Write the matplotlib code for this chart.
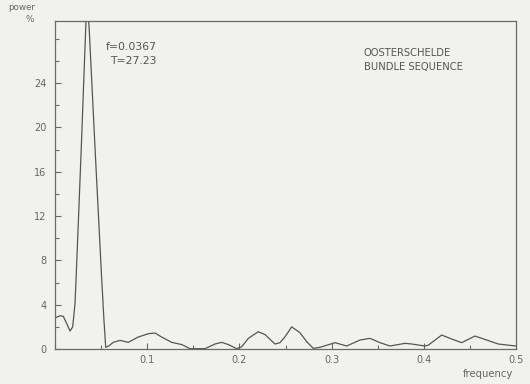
import matplotlib
matplotlib.use("Agg")
import matplotlib.pyplot as plt
from matplotlib.ticker import MultipleLocator, FixedLocator

# Power spectrum of the bundle sequence
freq = [0.000, 0.0054, 0.0090, 0.0127, 0.0163, 0.0192, 0.0217, 0.0228,
        0.0282, 0.0336, 0.0352, 0.0369, 0.0435, 0.0504, 0.0531, 0.0550,
        0.0578, 0.0632, 0.0705, 0.0795, 0.0903, 0.1012, 0.1085, 0.1157,
        0.1266, 0.1374, 0.1464, 0.1627, 0.1735, 0.1808, 0.1880, 0.1970,
        0.2025, 0.2097, 0.2205, 0.2278, 0.2386, 0.2440, 0.2495, 0.2567,
        0.2657, 0.2730, 0.2801, 0.2874, 0.3037, 0.3164, 0.3308, 0.3416,
        0.3525, 0.3633, 0.3796, 0.3869, 0.4013, 0.4049, 0.4194, 0.4284,
        0.4411, 0.4555, 0.4682, 0.4808, 0.5000]
power = [2.8, 3.0, 2.95, 2.3, 1.62, 2.0, 4.1, 6.2,
         17.5, 29.6, 30.4, 29.2, 18.0, 6.7, 2.6, 0.15,
         0.25, 0.6, 0.78, 0.6, 1.08, 1.38, 1.44, 1.08,
         0.6, 0.4, 0.03, 0.03, 0.45, 0.6, 0.4, 0.03,
         0.2, 0.96, 1.56, 1.3, 0.45, 0.57, 1.1, 2.0,
         1.47, 0.66, 0.06, 0.15, 0.57, 0.27, 0.81, 0.96,
         0.57, 0.27, 0.51, 0.45, 0.27, 0.35, 1.26, 0.96,
         0.57, 1.17, 0.81, 0.45, 0.27]

x_major = [0.1, 0.2, 0.3, 0.4, 0.5]
x_labels = ["0.1", "0.2", "0.3", "0.4", "0.5"]
y_major = [0, 4, 8, 12, 16, 20, 24]
y_labels = ["0", "4", "8", "12", "16", "20", "24"]

peak_text = "f=0.0367\nT=27.23"
title_text = "OOSTERSCHELDE\nBUNDLE SEQUENCE"

bg = "#f1f1ef"
ink = "#555555"
label_ink = "#666666"
plt.rcParams["font.family"] = ["DejaVu Sans"]

W, H = 530, 384
fig = plt.figure(figsize=(W / 100, H / 100), dpi=100, facecolor=bg)
ax = fig.add_axes([55 / W, 35 / H, 461 / W, 328 / H], facecolor=bg)

ax.plot(freq, power, color=ink, lw=0.9, solid_joinstyle="round")
ax.set_xlim(0, 0.5)
ax.set_ylim(0, 29.6)

for s in ax.spines.values():
    s.set_color("#6a6a6a")
    s.set_linewidth(0.9)

ax.xaxis.set_major_locator(FixedLocator(x_major))
ax.set_xticklabels(x_labels)
ax.xaxis.set_minor_locator(MultipleLocator(0.05))
ax.yaxis.set_major_locator(FixedLocator(y_major))
ax.set_yticklabels(y_labels)
ax.yaxis.set_minor_locator(MultipleLocator(2))

ax.tick_params(axis="both", which="both", direction="in", color="#6a6a6a",
               labelcolor=label_ink, labelsize=7, width=0.8)
ax.tick_params(axis="both", which="major", length=4)
ax.tick_params(axis="both", which="minor", length=3)
ax.tick_params(axis="x", pad=4)
ax.tick_params(axis="y", pad=6)


def px_text(x, y, s, color=label_ink, **kw):
    fig.text(x / W, 1 - y / H, s, color=color, **kw)


px_text(22, 8, "power", fontsize=6.3, ha="center", va="center")
px_text(30, 19, "%", fontsize=6.3, ha="center", va="center")
px_text(488, 374, "frequency", fontsize=7.3, ha="center", va="center")

px_text(157, 54, peak_text, fontsize=7.8, ha="right", va="center",
        multialignment="right", linespacing=1.55, color="#555555")
px_text(364, 60, title_text, fontsize=7.2, ha="left", va="center",
        linespacing=1.6, color="#555555")

fig.savefig("out.png", dpi=100, facecolor=bg)
